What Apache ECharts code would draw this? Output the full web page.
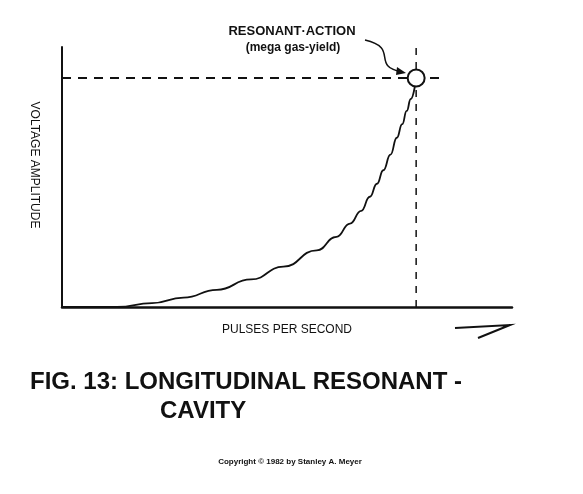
<!DOCTYPE html><html><head><meta charset="utf-8"><script src="https://cdn.jsdelivr.net/npm/echarts@6/dist/echarts.min.js"></script>
<style>html,body{margin:0;background:#fff}#c{width:583px;height:494px}</style></head><body><div id="c"></div><script>
const curveX = [0, 12.2, 20, 27, 34.4, 42, 49.2, 56.6, 61, 64, 66.5, 68.4, 70, 71.4, 73, 74.4, 75.6, 76.6, 77.5, 78.7];
const curveY = [0, 0, 1.5, 3.6, 6.6, 10.6, 15.5, 21.8, 27, 32.1, 37, 42.4, 47.4, 52.6, 58.6, 65.1, 70.3, 75.4, 80, 88.1];
const resonantX = 78.7, resonantY = 88.1, hLineEnd = 84;
const F = 'Liberation Sans, Arial, sans-serif';
const chart = echarts.init(document.getElementById('c'));
chart.setOption({
  animation:false,
  grid:{left:62,right:71,top:47,bottom:187},
  xAxis:{type:'value',min:0,max:100,axisLine:{lineStyle:{color:'#111',width:2.5}},axisTick:{show:false},axisLabel:{show:false},splitLine:{show:false}},
  yAxis:{type:'value',min:0,max:100,axisLine:{show:true,lineStyle:{color:'#111',width:2}},axisTick:{show:false},axisLabel:{show:false},splitLine:{show:false}},
  series:[
    {type:'line',data:curveX.map((x,i)=>[x,curveY[i]]),smooth:true,smoothMonotone:'x',symbol:'none',lineStyle:{color:'#111',width:1.8},silent:true},
    {type:'line',data:[[0,resonantY],[hLineEnd,resonantY]],symbol:'none',lineStyle:{color:'#111',width:2,type:[9,7]},silent:true},
    {type:'line',data:[[resonantX,0],[resonantX,100]],symbol:'none',lineStyle:{color:'#111',width:1.5,type:[7,7]},silent:true},
    {type:'scatter',data:[[resonantX,resonantY]],symbol:'circle',symbolSize:17,silent:true,itemStyle:{color:'#ffffff',opacity:1,borderColor:'#111',borderWidth:2},z:10}
  ],
  graphic:[
    {type:'text',x:292,y:25,style:{text:'RESONANT·ACTION',font:'bold 13px '+F,fill:'#111',align:'center'}},
    {type:'text',x:293,y:42,style:{text:'(mega gas-yield)',font:'bold 12px '+F,fill:'#111',align:'center'}},
    {type:'bezierCurve',shape:{x1:365,y1:40,cpx1:400,cpy1:48,cpx2:370,cpy2:66,x2:402,y2:72},style:{stroke:'#111',lineWidth:1.5,fill:null}},
    {type:'polygon',shape:{points:[[406,73],[397,67],[396,75]]},style:{fill:'#111'}},
    {type:'text',x:34,y:165,rotation:-Math.PI/2,style:{text:'VOLTAGE AMPLITUDE',font:'12px '+F,fill:'#111',align:'center',verticalAlign:'middle'}},
    {type:'text',x:287,y:330,style:{text:'PULSES PER SECOND',font:'12px '+F,fill:'#111',align:'center',verticalAlign:'middle'}},
    {type:'polyline',shape:{points:[[455,328],[510,325],[478,338]]},style:{stroke:'#111',lineWidth:2,fill:null}},
    {type:'text',x:30,y:370,style:{text:'FIG. 13: LONGITUDINAL RESONANT -',font:'bold 24px '+F,fill:'#111'}},
    {type:'text',x:160,y:399,style:{text:'CAVITY',font:'bold 24px '+F,fill:'#111'}},
    {type:'text',x:290,y:462,style:{text:'Copyright © 1982 by Stanley A. Meyer',font:'bold 8px '+F,fill:'#111',align:'center',verticalAlign:'middle'}}
  ]
});
</script></body></html>
